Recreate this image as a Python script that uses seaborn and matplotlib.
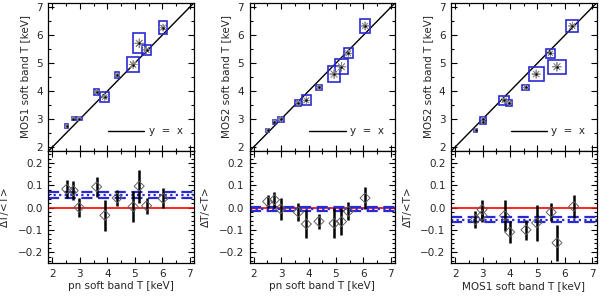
import numpy as np
import matplotlib
matplotlib.use("Agg")
import matplotlib.pyplot as plt
from matplotlib.patches import Rectangle
from matplotlib.ticker import MultipleLocator
import seaborn as sns
import pandas as pd

sns.set_style("ticks")
plt.rcParams['font.family'] = ['DejaVu Sans']

# ---------------- data ----------------
# Panel 1: pn (x) vs MOS1 (y)
p1_x = [2.52, 2.76, 2.97, 3.61, 3.91, 4.36, 4.94, 5.16, 5.43, 6.03]
p1_y = [2.75, 3.02, 3.02, 3.97, 3.79, 4.57, 4.95, 5.71, 5.47, 6.27]
p1_xerr = [0.06, 0.06, 0.10, 0.09, 0.16, 0.08, 0.21, 0.22, 0.17, 0.15]
p1_yerr = [0.06, 0.06, 0.07, 0.12, 0.18, 0.11, 0.27, 0.36, 0.18, 0.24]
p1_rx = [2.52, 2.76, 2.97, 3.61, 3.91, 4.36, 4.94, 5.16, 5.43, 6.03]
p1_rel = [0.083, 0.076, 0.001, 0.093, -0.035, 0.043, 0.004, 0.096, 0.008, 0.041]
p1_relerr = [0.040, 0.043, 0.044, 0.046, 0.069, 0.037, 0.069, 0.074, 0.037, 0.045]
p1_mean, p1_sig = 0.057, 0.012

# Panel 2: pn (x) vs MOS2 (y)
p2_x = [2.51, 2.76, 2.98, 3.63, 3.92, 4.38, 4.93, 5.20, 5.45, 6.06]
p2_y = [2.60, 2.90, 2.99, 3.58, 3.67, 4.13, 4.61, 4.87, 5.35, 6.33]
p2_xerr = [0.06, 0.06, 0.11, 0.11, 0.17, 0.11, 0.22, 0.22, 0.17, 0.17]
p2_yerr = [0.06, 0.06, 0.09, 0.11, 0.18, 0.10, 0.27, 0.27, 0.18, 0.24]
p2_rx = [2.51, 2.76, 2.98, 3.63, 3.92, 4.38, 4.93, 5.20, 5.45, 6.06]
p2_rel = [0.027, 0.035, -0.006, -0.021, -0.074, -0.062, -0.071, -0.063, -0.017, 0.043]
p2_relerr = [0.028, 0.035, 0.050, 0.041, 0.061, 0.034, 0.067, 0.060, 0.041, 0.049]
p2_mean, p2_sig = -0.006, 0.010

# Panel 3: MOS1 (x) vs MOS2 (y)
p3_x = [2.75, 3.02, 3.02, 3.79, 3.97, 4.57, 4.95, 5.71, 5.47, 6.27]
p3_y = [2.60, 2.90, 2.99, 3.67, 3.58, 4.13, 4.61, 4.87, 5.35, 6.33]
p3_xerr = [0.06, 0.10, 0.10, 0.18, 0.11, 0.12, 0.27, 0.34, 0.17, 0.22]
p3_yerr = [0.06, 0.07, 0.07, 0.15, 0.11, 0.10, 0.25, 0.25, 0.17, 0.23]
p3_rx = [2.74, 2.98, 2.98, 3.80, 3.99, 4.58, 4.97, 5.71, 5.50, 6.32]
p3_rel = [-0.054, -0.035, -0.009, -0.036, -0.110, -0.100, -0.069, -0.158, -0.021, 0.005]
p3_relerr = [0.037, 0.030, 0.045, 0.071, 0.050, 0.045, 0.080, 0.082, 0.041, 0.051]
p3_mean, p3_sig = -0.055, 0.012

panels = [
    dict(x=p1_x, y=p1_y, xe=p1_xerr, ye=p1_yerr, rx=p1_rx, rel=p1_rel, rele=p1_relerr,
         mean=p1_mean, sig=p1_sig, xlab="pn soft band T [keV]", ylab="MOS1 soft band T [keV]", left=48.3),
    dict(x=p2_x, y=p2_y, xe=p2_xerr, ye=p2_yerr, rx=p2_rx, rel=p2_rel, rele=p2_relerr,
         mean=p2_mean, sig=p2_sig, xlab="pn soft band T [keV]", ylab="MOS2 soft band T [keV]", left=249.5),
    dict(x=p3_x, y=p3_y, xe=p3_xerr, ye=p3_yerr, rx=p3_rx, rel=p3_rel, rele=p3_relerr,
         mean=p3_mean, sig=p3_sig, xlab="MOS1 soft band T [keV]", ylab="MOS2 soft band T [keV]", left=451.0),
]

W, H = 600, 296
fig = plt.figure(figsize=(6.0, 2.96), dpi=100)
BLUE = "#2a2ad0"
FS = 7.5

def style(ax):
    ax.tick_params(which="both", direction="in", top=True, right=True, labelsize=FS, width=0.8, color="black")
    ax.tick_params(which="major", length=4, pad=4)
    ax.tick_params(which="minor", length=2)
    for s in ax.spines.values():
        s.set_linewidth(0.9)
        s.set_color("black")

for p in panels:
    lw_frac = 145.5 / W
    left = p["left"] / W
    ax_t = fig.add_axes([left, 1 - 150.7 / H, lw_frac, 147.7 / H])
    ax_b = fig.add_axes([left, 1 - 263.3 / H, lw_frac, 112.6 / H])

    # ---- top panel ----
    ax_t.axline((2, 2), slope=1, color="black", lw=1.0, zorder=1)
    for xi, yi, xe, ye in zip(p["x"], p["y"], p["xe"], p["ye"]):
        small = max(xe, ye) < 0.065
        ax_t.add_patch(Rectangle((xi - xe, yi - ye), 2 * xe, 2 * ye,
                                 facecolor=BLUE if small else "none",
                                 edgecolor=BLUE, lw=1.2, zorder=3))
    df = pd.DataFrame({"x": p["x"], "y": p["y"], "s": np.array(p["ye"]) + np.array(p["xe"])})
    sns.scatterplot(data=df, x="x", y="y", size="s", sizes=(6, 40), marker=(8, 2, 0),
                    color="#8c8c8c", linewidth=0.6, legend=False, ax=ax_t, zorder=4)
    sns.scatterplot(data=df, x="x", y="y", s=3, color="black", linewidth=0, legend=False, ax=ax_t, zorder=5)
    ax_t.plot([0.41, 0.66], [0.133, 0.133], color="black", lw=1.0, transform=ax_t.transAxes)
    ax_t.text(0.69, 0.133, "y  =  x", transform=ax_t.transAxes, fontsize=FS, va="center", ha="left")
    ax_t.set_xlim(1.85, 7.15)
    ax_t.set_ylim(1.87, 7.15)
    ax_t.xaxis.set_major_locator(MultipleLocator(1))
    ax_t.xaxis.set_minor_locator(MultipleLocator(0.5))
    ax_t.yaxis.set_major_locator(MultipleLocator(1))
    ax_t.yaxis.set_minor_locator(MultipleLocator(0.5))
    ax_t.set_xticklabels([])
    ax_t.set_xlabel("")
    ax_t.set_ylabel(p["ylab"], fontsize=FS)
    ax_t.yaxis.set_label_coords(-0.125, 0.5)
    style(ax_t)

    # ---- bottom panel ----
    ax_b.axhline(0.0, color="red", lw=1.2, zorder=1)
    ax_b.axhline(p["mean"], color=BLUE, lw=1.6, ls=(0, (1, 1.5)), zorder=2)
    ax_b.axhline(p["mean"] + p["sig"], color=BLUE, lw=1.6, ls=(0, (5, 2.5)), zorder=2)
    ax_b.axhline(p["mean"] - p["sig"], color=BLUE, lw=1.6, ls=(0, (5, 2.5)), zorder=2)
    ax_b.errorbar(p["rx"], p["rel"], yerr=p["rele"], fmt="none", ecolor="black", elinewidth=1.8,
                  capsize=0, zorder=3)
    dfr = pd.DataFrame({"x": p["rx"], "y": p["rel"]})
    sns.scatterplot(data=dfr, x="x", y="y", marker="D", s=26, facecolor="none",
                    edgecolor="#606060", linewidth=0.7, legend=False, ax=ax_b, zorder=4)
    ax_b.set_xlim(1.85, 7.15)
    ax_b.set_ylim(-0.25, 0.255)
    ax_b.xaxis.set_major_locator(MultipleLocator(1))
    ax_b.xaxis.set_minor_locator(MultipleLocator(0.5))
    ax_b.yaxis.set_major_locator(MultipleLocator(0.1))
    ax_b.yaxis.set_minor_locator(MultipleLocator(0.02))
    ax_b.set_yticks([-0.2, -0.1, 0.0, 0.1, 0.2])
    ax_b.set_yticklabels(["\u22120.2", "\u22120.1", "0.0", "0.1", "0.2"])
    ax_b.set_xlabel(p["xlab"], fontsize=FS)
    ax_b.xaxis.set_label_coords(0.5, -0.16)
    ax_b.set_ylabel("\u0394T/<T>", fontsize=FS)
    ax_b.yaxis.set_label_coords(-0.262, 0.5)
    style(ax_b)

fig.savefig("out.png", dpi=100)
